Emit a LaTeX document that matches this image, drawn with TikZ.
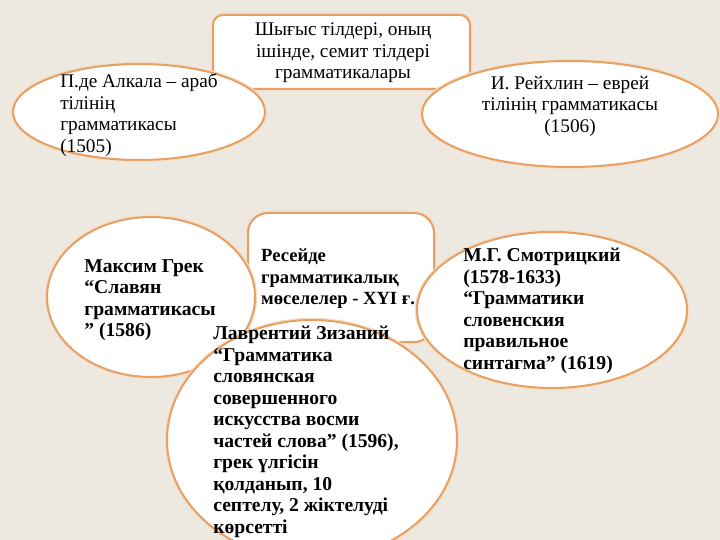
\documentclass[tikz,border=0pt]{standalone}
\usepackage{fontspec}
\setmainfont{Liberation Serif}
\usetikzlibrary{shapes.geometric}
\definecolor{slidebg}{RGB}{237,233,225}
\definecolor{rimorange}{RGB}{229,160,100}
\begin{document}
\begin{tikzpicture}[x=1pt,y=-1pt,
    rim/.style={draw=rimorange,line width=2pt,fill=white,
      preaction={draw=rimorange!35,line width=4.5pt}},
    oval/.style={rim,ellipse,inner sep=0pt},
    card/.style={rim,rectangle,inner sep=0pt},
    txt/.style={font=\fontsize{19.3}{21.5}\selectfont,inner sep=0pt},
    btxt/.style={font=\fontsize{19.6}{21.5}\selectfont\bfseries,inner sep=0pt}]
  \fill[slidebg] (0,0) rectangle (720,540);
  \useasboundingbox (0,0) rectangle (720,540);
  % top row
  \node[card,rounded corners=10pt,minimum width=257pt,minimum height=74pt] (east) at (341.5,52) {};
  \node[txt,align=center] (east-t) at (343,53) {Шығыс тілдері, оның\\ішінде, семит тілдері\\грамматикалары};
  \node[oval,minimum width=252pt,minimum height=96pt] (alkala) at (139,112) {};
  \node[txt,align=left] (alkala-t) at (139,115) {П.де Алкала – араб\\тілінің\\грамматикасы\\(1505)};
  \node[oval,minimum width=296pt,minimum height=106pt] (reuchlin) at (570,114) {};
  \node[txt,align=center] (reuchlin-t) at (570,106) {И. Рейхлин – еврей\\тілінің грамматикасы\\(1506)};
  % bottom group
  \node[card,rounded corners=20pt,minimum width=186pt,minimum height=129pt] (russia) at (341,277.5) {};
  \node[btxt,font=\fontsize{18.6}{21.5}\selectfont\bfseries,align=left,anchor=west] (russia-t) at (261,279) {Ресейде\\грамматикалық\\мөселелер - XҮI ғ.};
  \node[oval,minimum width=208pt,minimum height=160pt] (grek) at (151,297) {};
  \node[btxt,align=left] (grek-t) at (150,300) {Максим Грек\\“Славян\\грамматикасы\\” (1586)};
  \node[oval,minimum width=270pt,minimum height=156pt] (smotr) at (552,310) {};
  \node[btxt,align=left] (smotr-t) at (542,311) {М.Г. Смотрицкий\\(1578-1633)\\“Грамматики\\словенския\\правильное\\синтагма” (1619)};
  \node[oval,minimum width=290pt,minimum height=240pt] (zizaniy) at (312,440) {};
  \node[btxt,align=left] (zizaniy-t) at (306,432) {Лаврентий Зизаний\\“Грамматика\\словянская\\совершенного\\искусства восми\\частей слова” (1596),\\грек үлгісін\\қолданып, 10\\септелу, 2 жіктелуді\\көрсетті};
\end{tikzpicture}
\end{document}
